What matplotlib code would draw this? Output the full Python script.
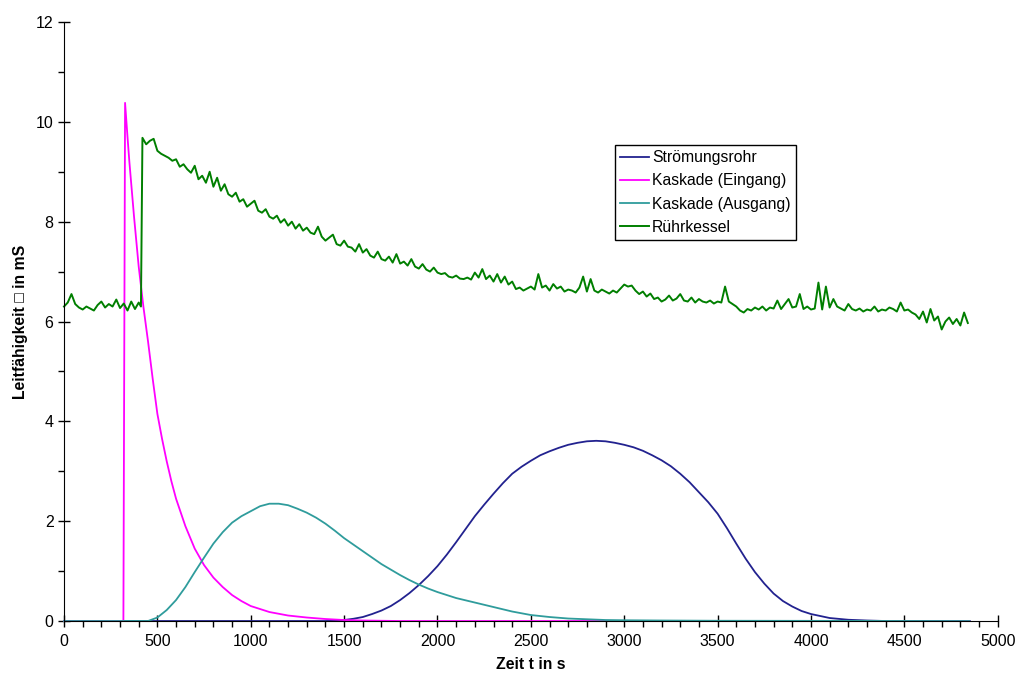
import matplotlib
matplotlib.use("Agg")
import matplotlib.pyplot as plt
from matplotlib.ticker import MultipleLocator

plt.rcParams['font.family'] = ['Liberation Sans', 'DejaVu Sans']

# Strömungsrohr
rohr_t = [0, 1400, 1450, 1500, 1550, 1600, 1650, 1700, 1750, 1800, 1850, 1900,
          1950, 2000, 2050, 2100, 2150, 2200, 2250, 2300, 2350, 2400, 2450,
          2500, 2550, 2600, 2650, 2700, 2750, 2800, 2850, 2900, 2950, 3000,
          3050, 3100, 3150, 3200, 3250, 3300, 3350, 3400, 3450, 3500, 3550,
          3600, 3650, 3700, 3750, 3800, 3850, 3900, 3950, 4000, 4100, 4200,
          4300, 4400, 4850]
rohr_v = [0.0, 0.0, 0.005, 0.02, 0.045, 0.08, 0.14, 0.21, 0.30, 0.42, 0.56, 0.72,
          0.90, 1.10, 1.33, 1.58, 1.84, 2.10, 2.33, 2.55, 2.76, 2.95, 3.09,
          3.21, 3.32, 3.40, 3.47, 3.53, 3.57, 3.60, 3.61, 3.60, 3.57, 3.53,
          3.48, 3.41, 3.32, 3.22, 3.10, 2.95, 2.78, 2.58, 2.38, 2.15, 1.86,
          1.55, 1.25, 0.98, 0.75, 0.55, 0.40, 0.29, 0.20, 0.14, 0.06, 0.025,
          0.01, 0.0, 0.0]

# Kaskade (Eingang)
ein_t = [0, 318, 327, 340, 350, 375, 400, 425, 450, 475, 500, 525, 550, 575,
         600, 650, 700, 750, 800, 850, 900, 950, 1000, 1100, 1200, 1300, 1400,
         1500, 1600, 1800, 4850]
ein_v = [0.0, 0.0, 10.38, 9.70, 9.20, 8.10, 7.10, 6.30, 5.60, 4.85, 4.15, 3.65,
         3.20, 2.80, 2.45, 1.90, 1.45, 1.12, 0.87, 0.68, 0.52, 0.40, 0.30, 0.18,
         0.11, 0.07, 0.04, 0.02, 0.01, 0.0, 0.0]

# Kaskade (Ausgang)
aus_t = [0, 450, 500, 550, 600, 650, 700, 750, 800, 850, 900, 950, 1000, 1050,
         1100, 1150, 1200, 1250, 1300, 1350, 1400, 1450, 1500, 1550, 1600, 1650,
         1700, 1750, 1800, 1850, 1900, 1950, 2000, 2100, 2200, 2300, 2400, 2500,
         2600, 2700, 2800, 2900, 3000, 3200, 3500, 4850]
aus_v = [0.0, 0.0, 0.07, 0.22, 0.42, 0.68, 0.98, 1.27, 1.55, 1.78, 1.97, 2.10,
         2.20, 2.30, 2.35, 2.35, 2.32, 2.25, 2.17, 2.07, 1.95, 1.81, 1.66, 1.53,
         1.40, 1.27, 1.14, 1.03, 0.92, 0.82, 0.73, 0.65, 0.58, 0.46, 0.37, 0.28,
         0.19, 0.12, 0.08, 0.05, 0.035, 0.02, 0.015, 0.01, 0.005, 0.0]

# Rührkessel
kessel_t = list(range(0, 401, 20)) + [412] + list(range(420, 4841, 20))
kessel_v = [
    6.30, 6.38, 6.55, 6.35, 6.28,
    6.24, 6.30, 6.26, 6.22, 6.33,
    6.40, 6.28, 6.35, 6.30, 6.44,
    6.27, 6.36, 6.22, 6.40, 6.25,
    6.38, 6.30, 9.68, 9.55, 9.62, 9.66,
    9.42, 9.36, 9.32, 9.28, 9.22,
    9.25, 9.10, 9.15, 9.05, 8.98,
    9.12, 8.85, 8.92, 8.78, 9.00,
    8.70, 8.88, 8.62, 8.75, 8.55,
    8.50, 8.58, 8.40, 8.45, 8.30,
    8.36, 8.42, 8.22, 8.18, 8.25,
    8.10, 8.06, 8.12, 7.98, 8.05,
    7.92, 8.00, 7.86, 7.95, 7.82,
    7.88, 7.78, 7.75, 7.90, 7.70,
    7.62, 7.68, 7.74, 7.55, 7.52,
    7.62, 7.50, 7.48, 7.40, 7.55,
    7.38, 7.45, 7.32, 7.28, 7.40,
    7.25, 7.22, 7.30, 7.18, 7.35,
    7.16, 7.20, 7.12, 7.25, 7.10,
    7.06, 7.15, 7.04, 7.00, 7.08,
    6.98, 6.95, 6.97, 6.90, 6.88,
    6.92, 6.86, 6.85, 6.88, 6.84,
    6.98, 6.88, 7.05, 6.85, 6.92,
    6.80, 6.95, 6.78, 6.90, 6.74,
    6.80, 6.65, 6.68, 6.62, 6.66,
    6.70, 6.64, 6.95, 6.68, 6.72,
    6.62, 6.75, 6.66, 6.70, 6.60,
    6.64, 6.62, 6.58, 6.68, 6.90,
    6.60, 6.85, 6.62, 6.58, 6.64,
    6.60, 6.56, 6.62, 6.58, 6.66,
    6.74, 6.70, 6.72, 6.62, 6.55,
    6.60, 6.50, 6.56, 6.45, 6.48,
    6.40, 6.44, 6.52, 6.42, 6.46,
    6.55, 6.42, 6.40, 6.48, 6.38,
    6.45, 6.40, 6.38, 6.42, 6.36,
    6.40, 6.38, 6.70, 6.40, 6.35,
    6.30, 6.22, 6.18, 6.25, 6.22,
    6.28, 6.24, 6.30, 6.22, 6.28,
    6.26, 6.42, 6.25, 6.35, 6.45,
    6.28, 6.30, 6.55, 6.25, 6.30,
    6.24, 6.26, 6.78, 6.24, 6.70,
    6.28, 6.45, 6.30, 6.26, 6.22,
    6.35, 6.25, 6.22, 6.26, 6.20,
    6.24, 6.22, 6.30, 6.20, 6.24,
    6.22, 6.28, 6.25, 6.20, 6.38,
    6.22, 6.24, 6.18, 6.14, 6.05,
    6.20, 5.98, 6.25, 6.02, 6.10,
    5.84, 6.00, 6.08, 5.95, 6.05,
    5.92, 6.18, 5.97,
]

fig = plt.figure(figsize=(10.16, 6.77), dpi=100)
ax = fig.add_axes([0.063, 0.0827, 0.919, 0.8848])

ax.plot(rohr_t, rohr_v, color="#22228f", lw=1.3, label="Strömungsrohr", clip_on=False)
ax.plot(ein_t, ein_v, color="#ff00ff", lw=1.3, label="Kaskade (Eingang)", clip_on=False)
ax.plot(aus_t, aus_v, color="#2f9c9c", lw=1.3, label="Kaskade (Ausgang)", clip_on=False)
ax.plot(kessel_t, kessel_v, color="#007f00", lw=1.4, label="Rührkessel", clip_on=False)

ax.set_xlim(0, 5000)
ax.set_ylim(0, 12)
ax.xaxis.set_major_locator(MultipleLocator(500))
ax.xaxis.set_minor_locator(MultipleLocator(100))
ax.yaxis.set_major_locator(MultipleLocator(2))
ax.yaxis.set_minor_locator(MultipleLocator(1))
ax.tick_params(which="major", direction="inout", length=8, width=1, labelsize=11.5)
ax.tick_params(which="minor", direction="out", length=4, width=1)
ax.tick_params(axis="x", pad=5)
for side in ("top", "right"):
    ax.spines[side].set_visible(False)

ax.set_xlabel("Zeit t in s", fontweight="bold", fontsize=11.3, labelpad=6)
ax.set_ylabel("Leitfähigkeit \u25a1 in mS", fontweight="bold", fontsize=11.3, labelpad=6)

leg = ax.legend(loc="upper left", bbox_to_anchor=(0.59, 0.795), fontsize=11.3,
                fancybox=False, framealpha=1, edgecolor="black", handlelength=1.85,
                borderpad=0.35, labelspacing=0.52, handletextpad=0.15,
                borderaxespad=0)
leg.get_frame().set_linewidth(1.0)

fig.savefig("out.png", dpi=100)
